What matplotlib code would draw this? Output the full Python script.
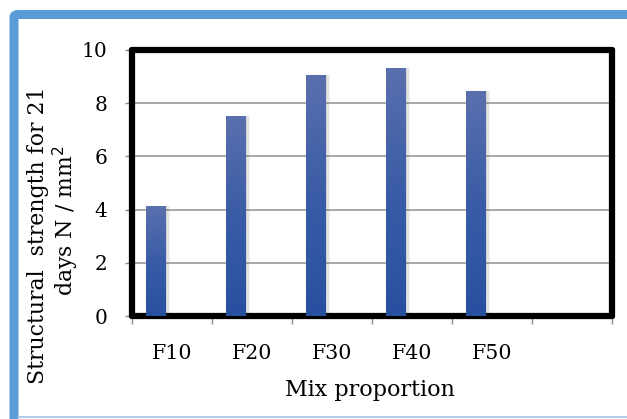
import numpy as np
import matplotlib
matplotlib.use("Agg")
import matplotlib.pyplot as plt
from matplotlib.colors import LinearSegmentedColormap
from matplotlib.patches import FancyBboxPatch
from matplotlib.lines import Line2D

# data
categories = ["F10", "F20", "F30", "F40", "F50", ""]
strength = [4.15, 7.5, 9.06, 9.34, 8.46]

plt.rcParams["font.family"] = ["DejaVu Serif"]

W, H = 627, 419
fig = plt.figure(figsize=(W / 100, H / 100), dpi=100)

# outer blue frame (open to the right)
frame = FancyBboxPatch((14 / W, -0.2), 1.2, (1 - 14.5 / H) + 0.2,
                       boxstyle="round,pad=0,rounding_size=0.007",
                       transform=fig.transFigure, fill=False,
                       edgecolor="#5b9bd5", linewidth=6.5, zorder=0)
fig.add_artist(frame)
fig.add_artist(Line2D([18 / W, 1], [1 - 417 / H] * 2, transform=fig.transFigure,
                      color="#9dc3e6", lw=1.2))

ax = fig.add_axes([132 / W, 1 - 316 / H, 480 / W, 266 / H])

x = np.arange(len(categories))
pos = x[:len(strength)] - 0.2
width = 0.24

cmap = LinearSegmentedColormap.from_list("bar", ["#2850a0", "#3a5ca6", "#5a70ae"])
grad = np.linspace(0, 1, 256).reshape(-1, 1)

# soft shadow to the right of each bar
for k, a in [(0.05, 0.10), (0.035, 0.12), (0.02, 0.14)]:
    ax.bar(pos + k * 0.6, strength, width + k, color="#808080", alpha=a,
           zorder=2, linewidth=0)

bars = ax.bar(pos, strength, width, color="none", zorder=3, linewidth=0)
for b in bars:
    x0 = b.get_x()
    im = ax.imshow(grad, extent=[x0, x0 + b.get_width(), 0, b.get_height()],
                   origin="lower", cmap=cmap, aspect="auto", zorder=3)
    im.set_clip_path(b)

ax.set_xlim(-0.5, len(categories) - 0.5)
ax.set_ylim(0, 10)
ax.set_yticks(range(0, 11, 2))
ax.set_xticks(np.arange(-0.5, len(categories), 1), minor=False)
ax.set_xticklabels([""] * (len(categories) + 1))
ax.set_xticks(x, minor=True)
ax.set_xticklabels(categories, minor=True)
ax.tick_params(axis="x", which="minor", length=0, pad=20, labelsize=14.8)
ax.tick_params(axis="x", which="major", length=6, color="#888888", width=1,
               direction="out")
ax.tick_params(axis="y", length=5, color="#888888", width=1, pad=13,
               labelsize=14.5)

ax.grid(axis="y", color="#999999", lw=1.2, zorder=1)
ax.set_axisbelow(True)
for s in ax.spines.values():
    s.set_linewidth(4.5)
    s.set_color("black")
    s.set_capstyle("round")

fig.text(370 / W, 1 - 390 / H, "Mix proportion",
         ha="center", va="center", fontsize=16)
fig.text(38 / W, 1 - 235 / H, "Structural  strength for 21",
         rotation=90, ha="center", va="center", fontsize=15.8)
fig.text(66 / W, 1 - 221 / H, "days N / mm$^2$",
         rotation=90, ha="center", va="center", fontsize=15.8)

fig.savefig("out.png", dpi=100)
